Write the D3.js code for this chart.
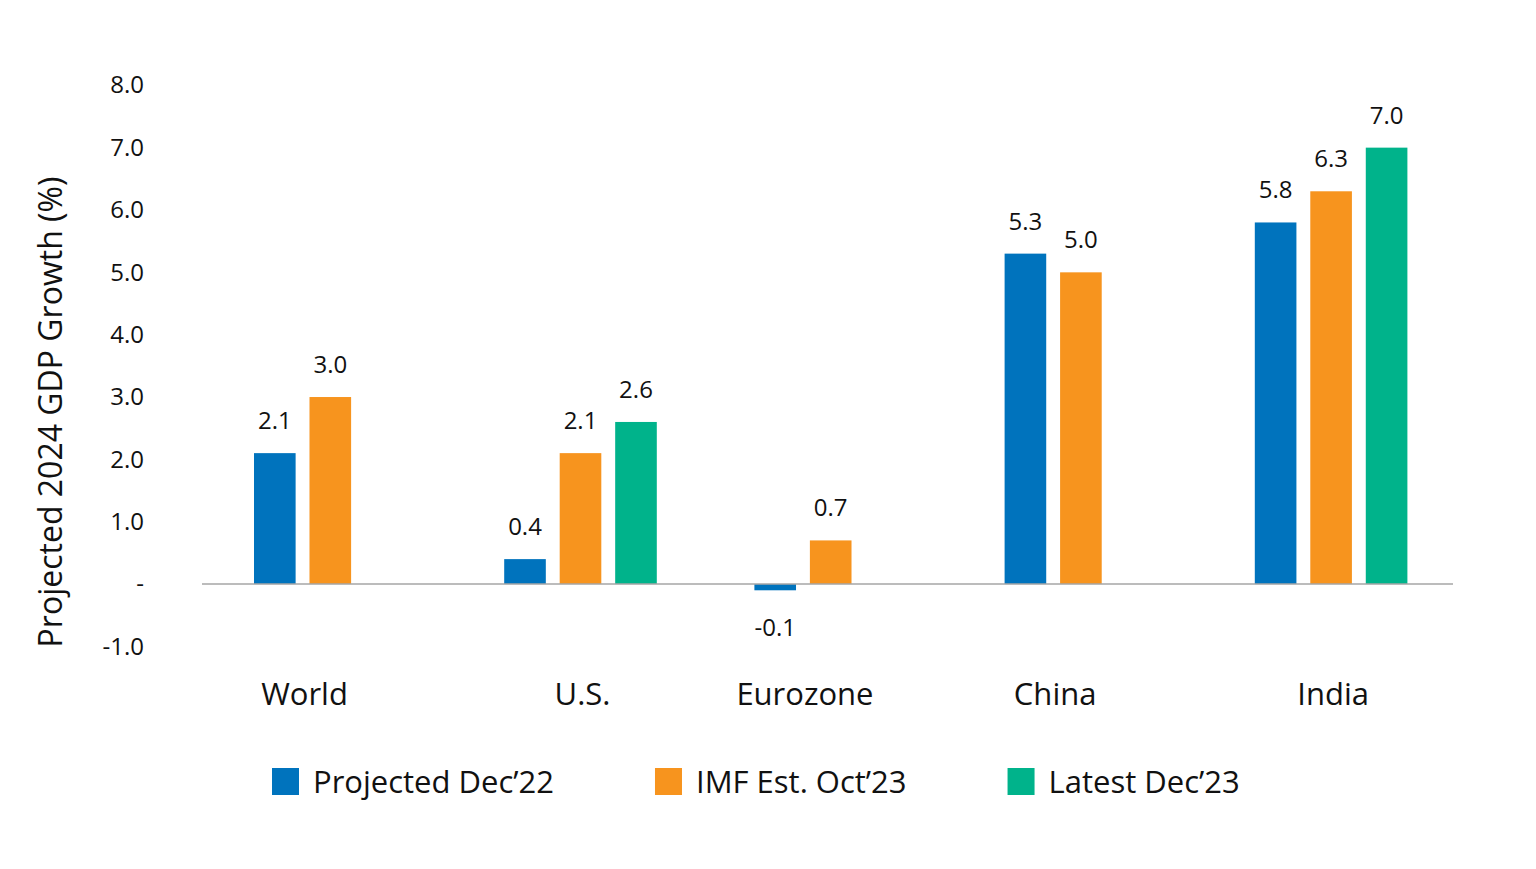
<!DOCTYPE html>
<html lang="en">

<head>
    <meta charset="UTF-8">
    <title>Projected 2024 GDP Growth</title>
    <style>
        body { margin: 0; background: #fff; }
        text { font-family: "Open Sans", "Noto Sans", sans-serif; fill: #111; }
    </style>
</head>

<body>
    <script src="https://cdn.jsdelivr.net/npm/d3@7"></script>
    <script>
        // data
        var categories = ['World', 'U.S.', 'Eurozone', 'China', 'India'];
        var seriesNames = ['Projected Dec\u201922', 'IMF Est. Oct\u201923', 'Latest Dec\u201923'];
        var projectedDec22 = [2.1, 0.4, -0.1, 5.3, 5.8];
        var imfOct23 = [3.0, 2.1, 0.7, 5.0, 6.3];
        var latestDec23 = [null, 2.6, null, null, 7.0];
        var yTicks = [-1, 0, 1, 2, 3, 4, 5, 6, 7, 8];
        var colors = ['#0073bd', '#f7941e', '#00b38b'];

        var allSeries = [projectedDec22, imfOct23, latestDec23];

        // plain hyphen for negatives, like the original
        var fmt = d3.formatLocale({ decimal: '.', thousands: ',', grouping: [3], currency: ['$', ''], minus: '-' }).format('.1f');

        var width = 1536, height = 869;
        var svg = d3.select('body').append('svg').attr('width', width).attr('height', height);

        // scales
        var x0 = d3.scaleBand().domain(categories).range([202, 1453]);
        var x1 = d3.scaleBand().domain(d3.range(seriesNames.length)).range([52, 52 + 152.6]).paddingInner(0.25);
        var y = d3.scaleLinear().domain([-1, 8]).range([646.4, 85.3]);

        // y tick labels (no axis line, zero shown as a dash)
        var yAxis = d3.axisLeft(y).tickValues(yTicks).tickSize(0).tickPadding(0)
            .tickFormat(function (d) { return d === 0 ? '-' : fmt(d); });
        var gy = svg.append('g').attr('transform', 'translate(144,0)').call(yAxis);
        gy.select('.domain').remove();
        gy.selectAll('text').style('font-size', '24px').style('font-family', '"Open Sans", sans-serif').attr('fill', '#111');

        // axis title
        svg.append('text')
            .attr('transform', 'translate(62,412) rotate(-90)')
            .attr('text-anchor', 'middle')
            .style('font-size', '32px')
            .text('Projected 2024 GDP Growth (%)');

        // bars
        var barData = [];
        categories.forEach(function (c, i) {
            allSeries.forEach(function (s, j) {
                if (s[i] !== null) barData.push({ cat: c, s: j, v: s[i] });
            });
        });

        var groups = svg.append('g');
        groups.selectAll('rect').data(barData).enter().append('rect')
            .attr('x', function (d) { return x0(d.cat) + x1(d.s); })
            .attr('y', function (d) { return y(Math.max(0, d.v)); })
            .attr('width', x1.bandwidth())
            .attr('height', function (d) { return Math.abs(y(d.v) - y(0)); })
            .attr('fill', function (d) { return colors[d.s]; });

        // zero line
        svg.append('line')
            .attr('x1', x0.range()[0]).attr('x2', x0.range()[1])
            .attr('y1', y(0)).attr('y2', y(0))
            .attr('stroke', '#a6a6a6').attr('stroke-width', 1.5);

        // value labels
        groups.selectAll('.val').data(barData).enter().append('text')
            .attr('class', 'val')
            .attr('x', function (d) { return x0(d.cat) + x1(d.s) + x1.bandwidth() / 2; })
            .attr('y', function (d) { return d.v >= 0 ? y(d.v) - 24 : y(d.v) + 46; })
            .attr('text-anchor', 'middle')
            .style('font-size', '24px')
            .text(function (d) { return fmt(d.v); });

        // category labels, centred under the bars that exist
        svg.selectAll('.cat').data(categories).enter().append('text')
            .attr('class', 'cat')
            .attr('x', function (c, i) {
                var centers = [];
                allSeries.forEach(function (s, j) {
                    if (s[i] !== null) centers.push(x0(c) + x1(j) + x1.bandwidth() / 2);
                });
                return d3.mean(centers) + 2;
            })
            .attr('y', 705)
            .attr('text-anchor', 'middle')
            .style('font-size', '31px')
            .text(function (c) { return c; });

        // legend
        var lx = 272;
        seriesNames.forEach(function (name, j) {
            var g = svg.append('g').attr('transform', 'translate(' + lx + ',768)');
            g.append('rect').attr('width', 27).attr('height', 27).attr('fill', colors[j]);
            var t = g.append('text').attr('x', 41).attr('y', 25).style('font-size', '31px').text(name);
            lx += 41 + t.node().getComputedTextLength() + 101;
        });
    </script>
</body>

</html>
